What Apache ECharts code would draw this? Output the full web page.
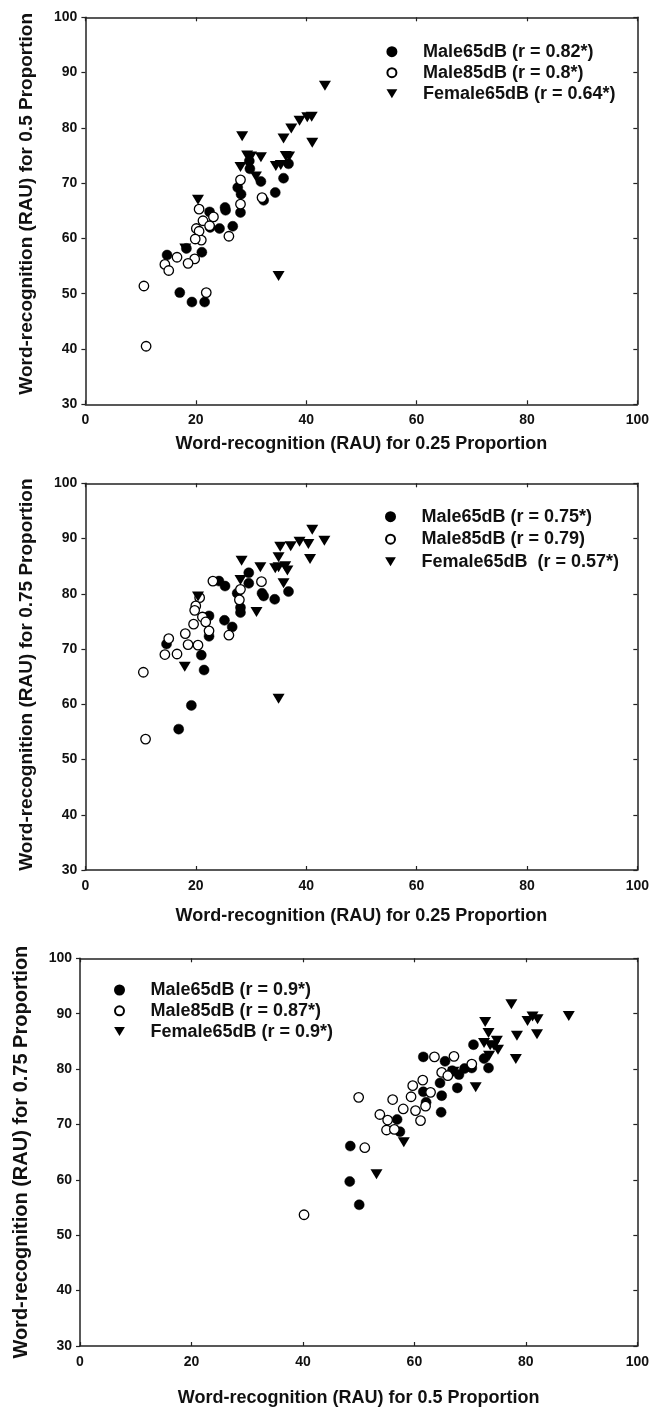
<!DOCTYPE html>
<html>
<head>
<meta charset="utf-8">
<script src="https://cdn.jsdelivr.net/npm/echarts@6/dist/echarts.min.js"></script>
<style>
html,body{margin:0;padding:0;background:#fff;}
#chart{width:652px;height:1408px;}
</style>
</head>
<body>
<div id="chart"></div>
<script>
// ---------- data ----------
// Panel 1: x = RAU for 0.25 proportion, y = RAU for 0.5 proportion
const p1Male65 = [[29.7,74.0],[29.8,72.6],[31.8,70.3],[32.3,66.9],[36.8,73.5],[35.9,70.9],[34.4,68.3],[27.6,69.2],[28.2,68.0],[28.1,64.7],[25.3,65.6],[25.4,65.1],[26.7,62.2],[24.3,61.8],[22.5,64.8],[22.6,62.0],[21.1,57.5],[18.3,58.2],[14.8,57.0],[17.1,50.2],[19.3,48.5],[21.6,48.5]];
const p1Male85 = [[28.1,70.6],[28.1,66.2],[32.0,67.4],[20.6,65.3],[23.2,63.9],[21.3,63.2],[22.5,62.3],[20.1,61.8],[20.6,61.3],[26.0,60.4],[21.0,59.7],[19.9,59.9],[16.6,56.6],[19.8,56.3],[18.6,55.5],[14.4,55.3],[15.1,54.2],[10.6,51.4],[21.9,50.2],[11.0,40.5]];
const p1Female65 = [[43.4,87.6],[40.2,81.9],[41.0,82.0],[38.8,81.3],[37.3,79.9],[35.9,78.1],[41.1,77.3],[28.4,78.5],[29.3,75.0],[30.0,74.8],[31.8,74.7],[36.3,74.9],[36.9,74.8],[34.5,73.1],[35.4,73.3],[28.1,72.9],[30.9,71.2],[20.4,67.0],[18.1,58.2],[35.0,53.2]];
// Panel 2: x = RAU for 0.25 proportion, y = RAU for 0.75 proportion
const p2Male65 = [[29.6,83.8],[29.6,81.9],[24.2,82.3],[25.3,81.4],[27.5,80.1],[28.1,77.5],[28.1,76.6],[32.0,80.1],[32.3,79.6],[34.3,79.0],[36.8,80.4],[22.4,76.0],[22.4,72.3],[25.2,75.2],[26.6,74.0],[14.7,70.9],[21.0,68.9],[21.5,66.2],[19.2,59.8],[16.9,55.5]];
const p2Male85 = [[23.1,82.3],[31.9,82.2],[28.1,80.8],[27.9,78.9],[20.7,79.3],[20.0,77.8],[19.8,77.0],[21.2,75.8],[21.8,74.9],[19.6,74.5],[22.4,73.3],[18.1,72.8],[26.0,72.5],[20.4,70.7],[18.6,70.8],[15.1,71.9],[14.4,69.0],[16.6,69.1],[10.5,65.8],[10.9,53.7]];
const p2Female65 = [[41.1,91.6],[43.3,89.6],[38.8,89.4],[40.4,89.0],[37.2,88.6],[35.3,88.5],[40.7,86.3],[35.0,86.6],[28.3,86.0],[31.7,84.8],[34.4,84.6],[35.0,84.8],[36.2,85.0],[36.6,84.2],[35.9,81.9],[28.1,82.5],[31.0,76.7],[20.4,79.5],[18.0,66.8],[35.0,61.0]];
// Panel 3: x = RAU for 0.5 proportion, y = RAU for 0.75 proportion
const p3Male65 = [[70.6,84.4],[61.6,82.2],[65.5,81.4],[72.5,81.9],[73.3,80.2],[66.8,79.7],[68.0,79.0],[69.0,80.1],[70.3,80.2],[64.6,77.5],[67.7,76.6],[61.6,75.9],[64.9,75.2],[62.1,74.0],[64.8,72.2],[56.9,70.9],[57.4,68.7],[48.5,66.1],[48.4,59.7],[50.1,55.5]];
const p3Male85 = [[63.6,82.2],[67.1,82.3],[70.3,80.9],[64.9,79.4],[66.0,78.8],[61.5,78.0],[59.7,77.0],[62.9,75.8],[59.4,75.0],[50.0,74.9],[56.1,74.5],[62.0,73.3],[58.0,72.8],[60.2,72.5],[53.8,71.8],[55.2,70.8],[61.1,70.7],[55.0,69.0],[56.4,69.1],[51.1,65.8],[40.2,53.7]];
const p3Female65 = [[77.4,91.7],[87.7,89.6],[81.2,89.5],[82.1,89.0],[80.3,88.7],[72.7,88.5],[73.3,86.5],[78.4,86.0],[82.0,86.3],[72.5,84.7],[73.6,84.3],[74.8,85.1],[74.3,84.2],[75.0,83.5],[73.4,82.4],[78.2,81.8],[71.0,76.7],[67.0,79.5],[58.1,66.8],[53.2,61.0]];

const p1Names = ['Male65dB (r = 0.82*)','Male85dB (r = 0.8*)','Female65dB (r = 0.64*)'];
const p2Names = ['Male65dB (r = 0.75*)','Male85dB (r = 0.79)','Female65dB  (r = 0.57*)'];
const p3Names = ['Male65dB (r = 0.9*)','Male85dB (r = 0.87*)','Female65dB (r = 0.9*)'];

const xTitles = ['Word-recognition (RAU) for 0.25 Proportion','Word-recognition (RAU) for 0.25 Proportion','Word-recognition (RAU) for 0.5 Proportion'];
const yTitles = ['Word-recognition (RAU) for 0.5 Proportion','Word-recognition (RAU) for 0.75 Proportion','Word-recognition (RAU) for 0.75 Proportion'];

// ---------- styling / layout ----------
const FONT = '"Liberation Sans", Arial, Helvetica, sans-serif';
const TRI = 'path://M0,0L12,0L6,10Z';
const AXC = '#222';

const grids = [
  {left:85.4, top:17.3, width:554.2, height:387},
  {left:85.4, top:483.3, width:554.2, height:386.7},
  {left:80, top:958.3, width:559.6, height:390}
];
const xNameGap = [31, 37, 43];
const yNameSize = [19, 19, 20];
const yNamePad = [[0,0,0,14],[0,0,0,4],[0,0,0,0]];
const legendPos = [
  {left:386.4, top:42.7, gap:3},
  {left:385, top:507.7, gap:4.5},
  {left:114, top:981, gap:2.8}
];

const panels = [
  {names:p1Names, data:[p1Male65,p1Male85,p1Female65]},
  {names:p2Names, data:[p2Male65,p2Male85,p2Female65]},
  {names:p3Names, data:[p3Male65,p3Male85,p3Female65]}
];

const xAxes = [], yAxes = [], series = [], legends = [];
const lineStyle = {color:AXC, width:1.5};
const tickStyle = {color:AXC, width:1.2};
const labelStyle = {fontFamily:FONT, fontSize:14, fontWeight:'bold', color:'#111'};

panels.forEach((p, i) => {
  xAxes.push({
    gridIndex:i, type:'value', min:0, max:100, interval:20, position:'bottom',
    name:xTitles[i], nameLocation:'middle', nameGap:xNameGap[i],
    nameTextStyle:{fontFamily:FONT, fontSize:18, fontWeight:'bold', color:'#111'},
    axisLine:{show:true, onZero:false, lineStyle:lineStyle},
    axisTick:{show:true, inside:true, length:4, lineStyle:tickStyle},
    axisLabel:Object.assign({margin:9}, labelStyle),
    splitLine:{show:false}
  });
  xAxes.push({
    gridIndex:i, type:'value', min:0, max:100, interval:20, position:'top',
    axisLine:{show:true, onZero:false, lineStyle:lineStyle},
    axisTick:{show:true, inside:true, length:4, lineStyle:tickStyle},
    axisLabel:{show:false}, splitLine:{show:false}
  });
  yAxes.push({
    gridIndex:i, type:'value', min:30, max:100, interval:10, position:'left',
    name:yTitles[i], nameLocation:'middle', nameGap:49,
    nameTextStyle:{fontFamily:FONT, fontSize:yNameSize[i], fontWeight:'bold', color:'#111', padding:yNamePad[i]},
    axisLine:{show:true, onZero:false, lineStyle:lineStyle},
    axisTick:{show:true, inside:false, length:4, lineStyle:tickStyle},
    axisLabel:Object.assign({margin:8}, labelStyle),
    splitLine:{show:false}
  });
  yAxes.push({
    gridIndex:i, type:'value', min:30, max:100, interval:10, position:'right',
    axisLine:{show:true, onZero:false, lineStyle:lineStyle},
    axisTick:{show:true, inside:true, length:4, lineStyle:tickStyle},
    axisLabel:{show:false}, splitLine:{show:false}
  });

  const xi = i*2, yi = i*2;
  series.push({
    type:'scatter', name:p.names[0], xAxisIndex:xi, yAxisIndex:yi,
    data:p.data[0], symbol:'circle', symbolSize:10,
    itemStyle:{color:'#000', borderColor:'#000', borderWidth:0.5, opacity:1}, z:2
  });
  series.push({
    type:'scatter', name:p.names[1], xAxisIndex:xi, yAxisIndex:yi,
    data:p.data[1], symbol:'circle', symbolSize:9.5,
    itemStyle:{color:'#fff', borderColor:'#000', borderWidth:1.3, opacity:1}, z:3
  });
  series.push({
    type:'scatter', name:p.names[2], xAxisIndex:xi, yAxisIndex:yi,
    data:p.data[2], symbol:TRI, symbolSize:[12,10],
    itemStyle:{color:'#000', opacity:1}, z:4
  });

  legends.push({
    orient:'vertical', left:legendPos[i].left, top:legendPos[i].top,
    itemWidth:52, itemHeight:9, itemGap:legendPos[i].gap,
    selectedMode:false, padding:0,
    textStyle:{fontFamily:FONT, fontSize:18, fontWeight:'bold', color:'#111', lineHeight:18},
    data:[
      {name:p.names[0], icon:'circle'},
      {name:p.names[1], icon:'circle'},
      {name:p.names[2], icon:TRI}
    ]
  });
});

const chart = echarts.init(document.getElementById('chart'), null, {renderer:'canvas'});
chart.setOption({
  animation:false,
  backgroundColor:'#fff',
  grid:grids,
  xAxis:xAxes,
  yAxis:yAxes,
  legend:legends,
  series:series
});
</script>
</body>
</html>
